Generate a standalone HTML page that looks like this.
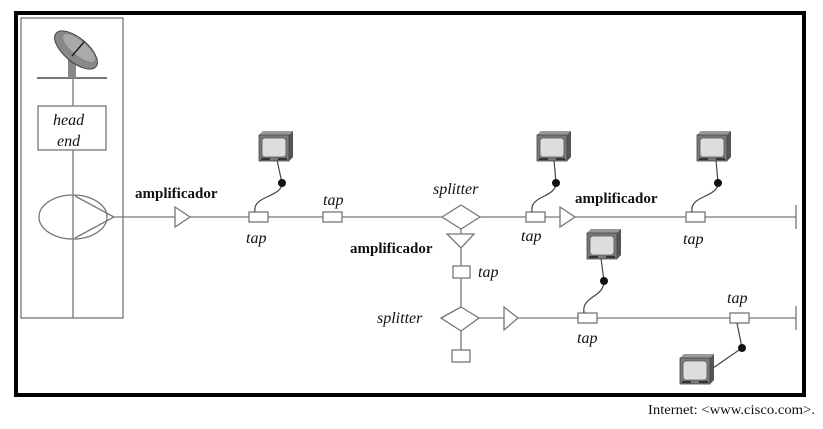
<!DOCTYPE html>
<html><head><meta charset="utf-8"><style>
body{margin:0;background:#fff;}
svg{display:block}
text{font-family:"Liberation Serif",serif;fill:#111}
.i{font-style:italic;font-size:16px}
.b{font-weight:bold;font-size:15px}
</style></head><body>
<svg width="823" height="429" viewBox="0 0 823 429">
<defs>
<g id="tv">
<polygon points="0,4 4,0 34,0 34,26 30,30 0,30" fill="#777"/>
<polygon points="30,4 34,0 34,26 30,30" fill="#555"/>
<polygon points="0,4 4,0 34,0 30,4" fill="#999"/>
<rect x="0" y="4" width="30" height="26" fill="#7a7a7a" stroke="#444" stroke-width="0.8"/>
<rect x="3" y="7" width="24" height="19" rx="3" fill="#ddd" stroke="#555" stroke-width="0.8"/>
<rect x="2" y="27" width="9" height="2" fill="#333"/><rect x="19" y="27" width="9" height="2" fill="#333"/>
</g>
</defs>
<rect x="16" y="13" width="788" height="382" fill="none" stroke="#000" stroke-width="4"/>
<g stroke="#777" stroke-width="1.3" fill="#fff">
<rect x="21" y="18" width="102" height="300" fill="none"/>
<line x1="37" y1="78" x2="107" y2="78" stroke-width="2"/>
<line x1="73" y1="70" x2="73" y2="318"/>
<rect x="38" y="106" width="68" height="44"/>
<ellipse cx="73" cy="217" rx="34" ry="22" fill="none"/>
<polyline points="75,196 114,217 75,238" fill="none"/>
<line x1="114" y1="217" x2="796" y2="217"/>
<line x1="796" y1="205" x2="796" y2="229"/>
<polygon points="175,207 190,217 175,227"/>
<rect x="249" y="212" width="19" height="10"/>
<rect x="323" y="212" width="19" height="10"/>
<polygon points="442,217 461,205 480,217 461,229"/>
<rect x="526" y="212" width="19" height="10"/>
<polygon points="560,207 575,217 560,227"/>
<rect x="686" y="212" width="19" height="10"/>
<line x1="461" y1="229" x2="461" y2="350"/>
<polygon points="447,234 474,234 461,248"/>
<rect x="453" y="266" width="17" height="12"/>
<polygon points="441,318 461,307 479,318 461,331"/>
<rect x="452" y="350" width="18" height="12"/>
<line x1="479" y1="318" x2="796" y2="318"/>
<line x1="796" y1="306" x2="796" y2="330"/>
<polygon points="504,307 518,318 504,330"/>
<rect x="578" y="313" width="19" height="10"/>
<rect x="730" y="313" width="19" height="10"/>
</g>
<g stroke="#444" stroke-width="1.2" fill="none">
<path d="M255,212 C252,195 282,198 282,183 L277,160"/>
<path d="M532,212 C529,195 556,198 556,183 L554,160"/>
<path d="M692,212 C689,195 718,198 718,183 L716,160"/>
<path d="M584,313 C581,296 604,298 604,281 L601,258"/>
<path d="M737,323 L742,348 L713,368"/>
</g>
<g fill="#111">
<circle cx="282" cy="183" r="4"/><circle cx="556" cy="183" r="4"/><circle cx="718" cy="183" r="4"/>
<circle cx="604" cy="281" r="4"/><circle cx="742" cy="348" r="4"/>
</g>
<use href="#tv" x="259" y="131"/>
<use href="#tv" x="537" y="131"/>
<use href="#tv" x="697" y="131"/>
<use href="#tv" x="587" y="229"/>
<use href="#tv" x="680" y="354"/>
<g>
<rect x="68" y="58" width="8" height="20" fill="#888"/>
<ellipse cx="76" cy="50" rx="26" ry="12" transform="rotate(40 76 50)" fill="#888" stroke="#444"/>
<ellipse cx="79" cy="48" rx="20" ry="7" transform="rotate(40 79 48)" fill="#aaa"/>
<line x1="72" y1="56" x2="84" y2="42" stroke="#222" stroke-width="1.5"/>
</g>
<text class="i" x="53" y="125">head</text>
<text class="i" x="57" y="146">end</text>
<text class="b" x="135" y="198">amplificador</text>
<text class="i" x="246" y="243">tap</text>
<text class="i" x="323" y="205">tap</text>
<text class="i" x="433" y="194">splitter</text>
<text class="i" x="521" y="241">tap</text>
<text class="b" x="575" y="203">amplificador</text>
<text class="i" x="683" y="244">tap</text>
<text class="b" x="350" y="253">amplificador</text>
<text class="i" x="478" y="277">tap</text>
<text class="i" x="377" y="323">splitter</text>
<text class="i" x="577" y="343">tap</text>
<text class="i" x="727" y="303">tap</text>
<text x="648" y="414" style="font-size:14px" textLength="167" lengthAdjust="spacingAndGlyphs">Internet: &lt;www.cisco.com&gt;.</text>
</svg>
</body></html>
